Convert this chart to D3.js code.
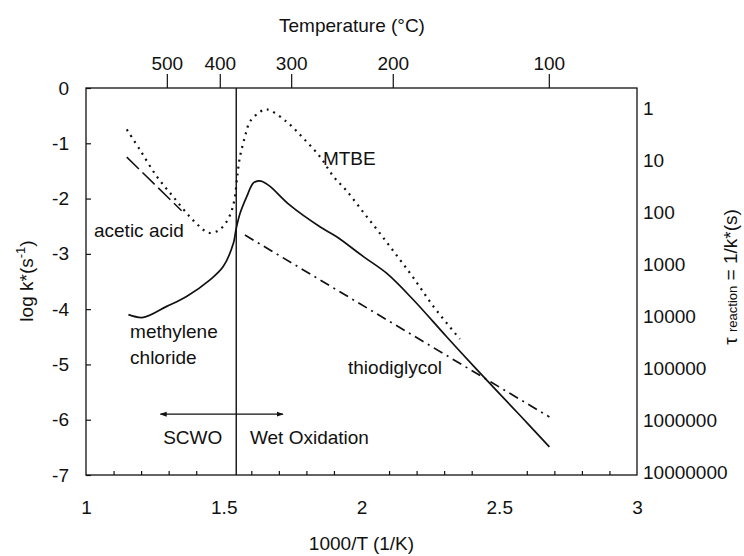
<!DOCTYPE html>
<html>
<head>
<meta charset="utf-8">
<script src="https://cdn.jsdelivr.net/npm/d3@7"></script>
<style>
  body { margin: 0; background: #fff; }
  text { font-family: "Liberation Sans", Arial, sans-serif; fill: #111; }
  .eje text { font-size: 19px; }
</style>
</head>
<body>
<div id="graf"></div>
<script>
// Datos: [1000/T, log k*]
mtbe = [[1.148,-0.75],[1.196,-1.12],[1.257,-1.60],[1.317,-1.97],[1.377,-2.33],[1.414,-2.51],
        [1.444,-2.62],[1.480,-2.58],[1.510,-2.42],[1.530,-2.20],[1.541,-1.95],[1.549,-1.60],
        [1.559,-1.24],[1.577,-0.88],[1.595,-0.61],[1.632,-0.43],[1.656,-0.385],[1.728,-0.61],
        [1.789,-0.91],[1.849,-1.24],[1.898,-1.60],[1.946,-1.86],[2.007,-2.25],[2.067,-2.63],
        [2.128,-3.03],[2.188,-3.43],[2.261,-3.95],[2.357,-4.54]]
metileno = [[1.154,-4.10],[1.208,-4.15],[1.293,-3.95],[1.365,-3.77],[1.450,-3.47],[1.498,-3.23],
            [1.535,-2.81],[1.544,-2.57],[1.559,-2.27],[1.583,-1.97],[1.607,-1.72],[1.626,-1.68],
            [1.640,-1.69],[1.668,-1.78],[1.740,-2.12],[1.849,-2.51],[1.910,-2.69],[2.007,-3.05],
            [2.091,-3.35],[2.188,-3.83],[2.309,-4.50],[2.418,-5.09],[2.575,-5.92],[2.682,-6.49]]
tiodiglicol = [[1.577,-2.66],[2.212,-4.55],[2.682,-5.95]]
acetico = [[1.148,-1.25],[1.347,-2.22]]

// Ejes
ticksX = [1, 1.5, 2, 2.5, 3]
ticksXmenor = [1.1,1.2,1.3,1.4,1.6,1.7,1.8,1.9,2.1,2.2,2.3,2.4,2.6,2.7,2.8,2.9]
ticksY = [0, -1, -2, -3, -4, -5, -6, -7]
temperaturas = [500, 400, 300, 200, 100]
tiempos = [1, 10, 100, 1000, 10000, 100000, 1000000, 10000000]
critico = 1000 / 647.1   // punto critico del agua
flechaX = [1.27, 1.715]
flechaY = -5.9

// Etiquetas [texto, x, y] en unidades de datos (x izquierda, y linea base)
etiquetas = [
  ['MTBE', 1.860, -1.39],
  ['acetic acid', 1.029, -2.69],
  ['methylene', 1.160, -4.53],
  ['chloride', 1.160, -4.99],
  ['thiodiglycol', 1.951, -5.17],
  ['SCWO', 1.280, -6.44],
  ['Wet Oxidation', 1.595, -6.44]
]

ancho_total = 744
alto_total = 556
margen = { superior: 88, izquierdo: 86, derecho: 107, inferior: 81 }
ancho = ancho_total - margen.izquierdo - margen.derecho
alto = alto_total - margen.superior - margen.inferior

svg = d3.select('#graf').append('svg')
        .attr('width', ancho_total)
        .attr('height', alto_total)

defs = svg.append('defs')
defs.append('marker')
    .attr('id', 'punta')
    .attr('viewBox', '0 0 10 10')
    .attr('refX', 9).attr('refY', 5)
    .attr('markerWidth', 7).attr('markerHeight', 7)
    .attr('markerUnits', 'userSpaceOnUse')
    .attr('orient', 'auto-start-reverse')
    .append('path')
    .attr('d', 'M0,1.5 L10,5 L0,8.5 Z')
    .attr('fill', '#111')

g = svg.append('g')
       .attr('transform', `translate(${margen.izquierdo}, ${margen.superior})`)

x = d3.scaleLinear().domain([1, 3]).range([0, ancho])
y = d3.scaleLinear().domain([0, -7]).range([0, alto])
// eje derecho de tiempo de reaccion (escala log, un poco desplazado)
tau = d3.scaleLog().domain([1, 1e7]).range([20, alto - 3])

/***** Ejes *****/
xAxisGroup = g.append('g').attr('class', 'eje')
              .attr('transform', `translate(0, ${alto})`)
              .call(d3.axisBottom(x).tickValues(ticksX).tickSize(0).tickPadding(26)
                      .tickFormat(d => String(d)))
g.append('g').attr('class', 'eje menor')
 .attr('transform', `translate(0, ${alto})`)
 .call(d3.axisBottom(x).tickValues(ticksXmenor).tickSize(-4).tickFormat(''))

// etiquetas con guion normal como en la figura
yAxisGroup = g.append('g').attr('class', 'eje')
              .call(d3.axisLeft(y).tickValues(ticksY).tickSize(-5).tickPadding(17)
                      .tickFormat(d => String(d)))

topAxisGroup = g.append('g').attr('class', 'eje')
                .call(d3.axisTop(x)
                        .tickValues(temperaturas.map(t => 1000 / (t + 273.15)))
                        .tickSize(14).tickPadding(4)
                        .tickFormat((d, i) => temperaturas[i]))

rightAxisGroup = g.append('g').attr('class', 'eje')
                  .attr('transform', `translate(${ancho}, 0)`)
                  .call(d3.axisRight(tau).tickValues(tiempos).tickSize(0).tickPadding(6)
                          .tickFormat(d => String(d)))

g.selectAll('.eje .domain').remove()
g.selectAll('.eje line').attr('stroke', '#111').attr('stroke-width', 1.2)
g.selectAll('.eje text').attr('fill', '#111')

// Marco del grafico
g.append('rect')
 .attr('width', ancho).attr('height', alto)
 .attr('fill', 'none').attr('stroke', '#111').attr('stroke-width', 1.3)

// Linea vertical del punto critico
g.append('line')
 .attr('x1', x(critico)).attr('x2', x(critico))
 .attr('y1', 0).attr('y2', alto)
 .attr('stroke', '#111').attr('stroke-width', 1.4)

/***** Curvas *****/
linea = d3.line().x(d => x(d[0])).y(d => y(d[1]))
curva = d3.line().x(d => x(d[0])).y(d => y(d[1])).curve(d3.curveCatmullRom.alpha(0.5))

g.append('path').datum(mtbe)
 .attr('d', curva).attr('fill', 'none')
 .attr('stroke', '#111').attr('stroke-width', 2.2)
 .attr('stroke-dasharray', '2,5')

g.append('path').datum(metileno)
 .attr('d', curva).attr('fill', 'none')
 .attr('stroke', '#111').attr('stroke-width', 1.7)

g.append('path').datum(tiodiglicol)
 .attr('d', linea).attr('fill', 'none')
 .attr('stroke', '#111').attr('stroke-width', 1.7)
 .attr('stroke-dasharray', '10,5,2,5')

g.append('path').datum(acetico)
 .attr('d', linea).attr('fill', 'none')
 .attr('stroke', '#111').attr('stroke-width', 1.5)
 .attr('stroke-dasharray', '17,5')

// Flecha SCWO / Wet Oxidation
g.append('line')
 .attr('x1', x(flechaX[0])).attr('x2', x(flechaX[1]))
 .attr('y1', y(flechaY)).attr('y2', y(flechaY))
 .attr('stroke', '#111').attr('stroke-width', 1.3)
 .attr('marker-start', 'url(#punta)')
 .attr('marker-end', 'url(#punta)')

/***** Etiquetas *****/
g.selectAll('.etiqueta')
 .data(etiquetas)
 .enter()
 .append('text')
 .attr('class', 'etiqueta')
 .attr('x', d => x(d[1]))
 .attr('y', d => y(d[2]))
 .style('font-size', '19px')
 .text(d => d[0])

// Titulos de ejes
svg.append('text')
   .attr('x', 352).attr('y', 32)
   .attr('text-anchor', 'middle')
   .style('font-size', '19px')
   .text('Temperature (°C)')

svg.append('text')
   .attr('x', margen.izquierdo + ancho / 2).attr('y', 550)
   .attr('text-anchor', 'middle')
   .style('font-size', '19px')
   .text('1000/T (1/K)')

tituloY = svg.append('text')
   .attr('transform', 'translate(33, 281) rotate(-90)')
   .attr('text-anchor', 'middle')
   .style('font-size', '19px')
tituloY.append('tspan').text('log k*(s')
tituloY.append('tspan').attr('dy', -8).style('font-size', '13px').text('-1')
tituloY.append('tspan').attr('dy', 8).text(')')

tituloTau = svg.append('text')
   .attr('transform', 'translate(737, 277) rotate(-90)')
   .attr('text-anchor', 'middle')
   .style('font-size', '19px')
tituloTau.append('tspan').text('τ ')
tituloTau.append('tspan').style('font-size', '13px').text('reaction')
tituloTau.append('tspan').text(' = 1/k*(s)')
</script>
</body>
</html>
